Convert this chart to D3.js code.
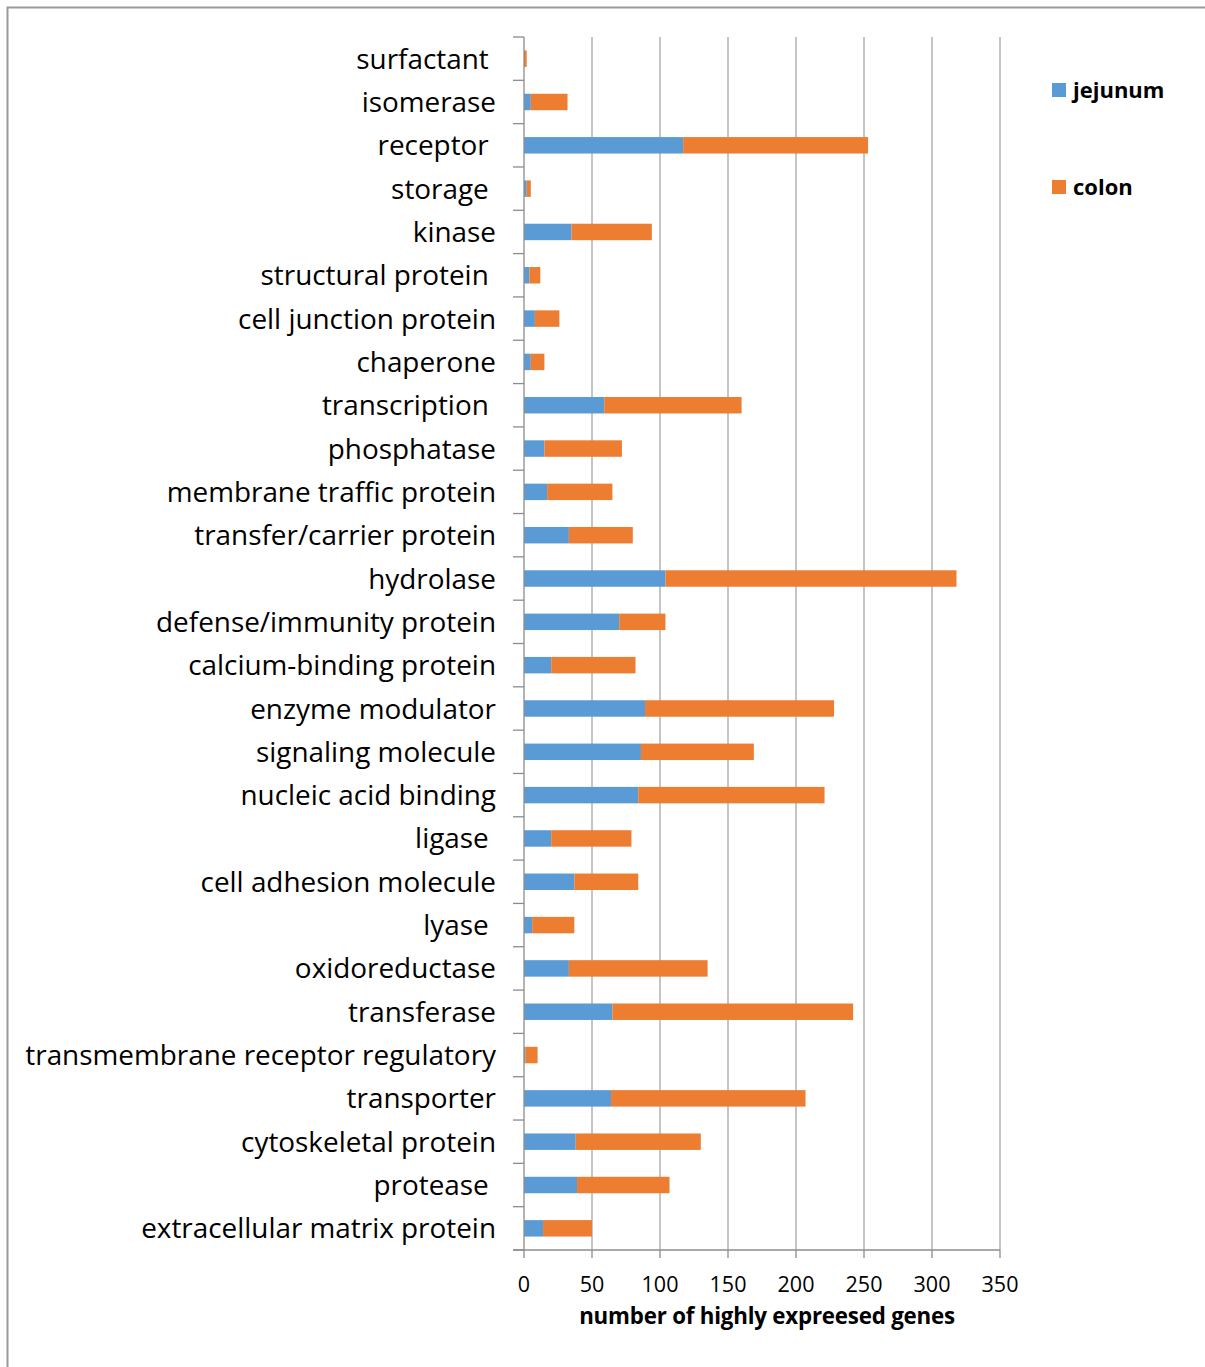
<!DOCTYPE html>
<html>
<head>
<meta charset="utf-8">
<script src="https://cdn.jsdelivr.net/npm/d3@7"></script>
<style>
  body { margin: 0; background: #fff; }
  text { font-family: "Open Sans", sans-serif; fill: #000; }
</style>
</head>
<body>
<svg id="chart"></svg>
<script>
// Data, top to bottom as in the chart
const categories = [
    "surfactant ", "isomerase", "receptor ", "storage ", "kinase",
    "structural protein ", "cell junction protein", "chaperone", "transcription ",
    "phosphatase", "membrane traffic protein", "transfer/carrier protein",
    "hydrolase", "defense/immunity protein", "calcium-binding protein",
    "enzyme modulator", "signaling molecule", "nucleic acid binding", "ligase ",
    "cell adhesion molecule", "lyase ", "oxidoreductase", "transferase",
    "transmembrane receptor regulatory", "transporter", "cytoskeletal protein",
    "protease ", "extracellular matrix protein"
];
const jejunum = [0, 5, 117, 2, 35, 4, 8, 5, 59, 15, 17, 33, 104, 70, 20, 89, 86, 84, 20, 37, 6, 33, 65, 1, 64, 38, 39, 14];
const colon = [2, 27, 136, 3, 59, 8, 18, 10, 101, 57, 48, 47, 214, 34, 62, 139, 83, 137, 59, 47, 31, 102, 177, 9, 143, 92, 68, 36];
const seriesNames = ["jejunum", "colon"];
const seriesColors = ["#5B9BD5", "#ED7D31"];
const xTicks = [0, 50, 100, 150, 200, 250, 300, 350];
const xTitle = "number of highly expreesed genes";

(() => {
    const width = 1205;
    const height = 1367;
    const plot = { left: 524, right: 1000, top: 37, bottom: 1250 };

    const svg = d3.select("#chart")
        .attr("width", width)
        .attr("height", height);

    // Outer frame (left and top edges only visible)
    svg.append("path")
        .attr("d", `M7.5,${height} V7.5 H${width}`)
        .attr("fill", "none")
        .attr("stroke", "#9a9a9a")
        .attr("stroke-width", 2);

    const x = d3.scaleLinear()
        .domain([0, 350])
        .range([plot.left, plot.right]);

    const y = d3.scaleBand()
        .domain(d3.range(categories.length))
        .range([plot.top, plot.bottom])
        .paddingInner(0.62)
        .paddingOuter(0.31);

    const step = (plot.bottom - plot.top) / categories.length;

    // Gridlines
    svg.append("g")
        .selectAll("line")
        .data(xTicks.slice(1))
        .join("line")
        .attr("x1", d => x(d)).attr("x2", d => x(d))
        .attr("y1", plot.top).attr("y2", plot.bottom)
        .attr("stroke", "#a6a6a6")
        .attr("stroke-width", 1.3);

    // Stacked bars
    const rows = categories.map((c, i) => ({ i, jejunum: jejunum[i], colon: colon[i] }));
    const stack = d3.stack().keys(seriesNames)(rows);

    svg.append("g")
        .selectAll("g")
        .data(stack)
        .join("g")
        .attr("fill", (d, k) => seriesColors[k])
        .selectAll("rect")
        .data(d => d)
        .join("rect")
        .attr("x", d => x(d[0]))
        .attr("width", d => x(d[1]) - x(d[0]))
        .attr("y", d => y(d.data.i))
        .attr("height", y.bandwidth());

    // Category axis line and ticks (between categories)
    const axisColor = "#8c8c8c";
    svg.append("line")
        .attr("x1", plot.left).attr("x2", plot.left)
        .attr("y1", plot.top).attr("y2", plot.bottom)
        .attr("stroke", axisColor).attr("stroke-width", 1.3);

    svg.append("g")
        .selectAll("line")
        .data(d3.range(categories.length + 1))
        .join("line")
        .attr("x1", plot.left - 11).attr("x2", plot.left)
        .attr("y1", i => plot.top + i * step).attr("y2", i => plot.top + i * step)
        .attr("stroke", axisColor).attr("stroke-width", 1.3);

    // Category labels
    const labels = svg.append("g")
        .selectAll("text")
        .data(categories)
        .join("text")
        .attr("x", 496)
        .attr("y", (d, i) => y(i) + y.bandwidth() / 2)
        .attr("dy", "0.36em")
        .attr("text-anchor", "end")
        .style("white-space", "pre")
        .style("font-size", "25px")
        .text(d => d);

    // Fit the longest label to the width seen in the chart
    const longest = labels.filter(d => d.startsWith("transmembrane")).node();
    const fs = 25 * 471 / longest.getComputedTextLength();
    labels.style("font-size", fs + "px");

    // Value axis
    svg.append("line")
        .attr("x1", plot.left - 11).attr("x2", plot.right)
        .attr("y1", plot.bottom).attr("y2", plot.bottom)
        .attr("stroke", axisColor).attr("stroke-width", 1.3);

    svg.append("g")
        .selectAll("line")
        .data(xTicks)
        .join("line")
        .attr("x1", d => x(d)).attr("x2", d => x(d))
        .attr("y1", plot.bottom).attr("y2", plot.bottom + 8)
        .attr("stroke", axisColor).attr("stroke-width", 1.3);

    svg.append("g")
        .selectAll("text")
        .data(xTicks)
        .join("text")
        .attr("x", d => x(d))
        .attr("y", 1284)
        .attr("dy", "0.36em")
        .attr("text-anchor", "middle")
        .style("font-size", "21.5px")
        .text(d => d);

    svg.append("text")
        .attr("x", 767)
        .attr("y", 1316)
        .attr("dy", "0.36em")
        .attr("text-anchor", "middle")
        .style("font-size", "22.3px")
        .style("font-weight", "bold")
        .style("letter-spacing", "-0.2px")
        .text(xTitle);

    // Legend
    const legend = svg.append("g")
        .selectAll("g")
        .data(seriesNames)
        .join("g")
        .attr("transform", (d, k) => `translate(1052, ${90 + k * 97})`);

    legend.append("rect")
        .attr("x", 0).attr("y", -7)
        .attr("width", 14).attr("height", 14)
        .attr("fill", (d, k) => seriesColors[k]);

    legend.append("text")
        .attr("x", 21)
        .attr("y", 0)
        .attr("dy", "0.36em")
        .style("font-size", "22px")
        .style("font-weight", "bold")
        .text(d => d);
})();
</script>
</body>
</html>
